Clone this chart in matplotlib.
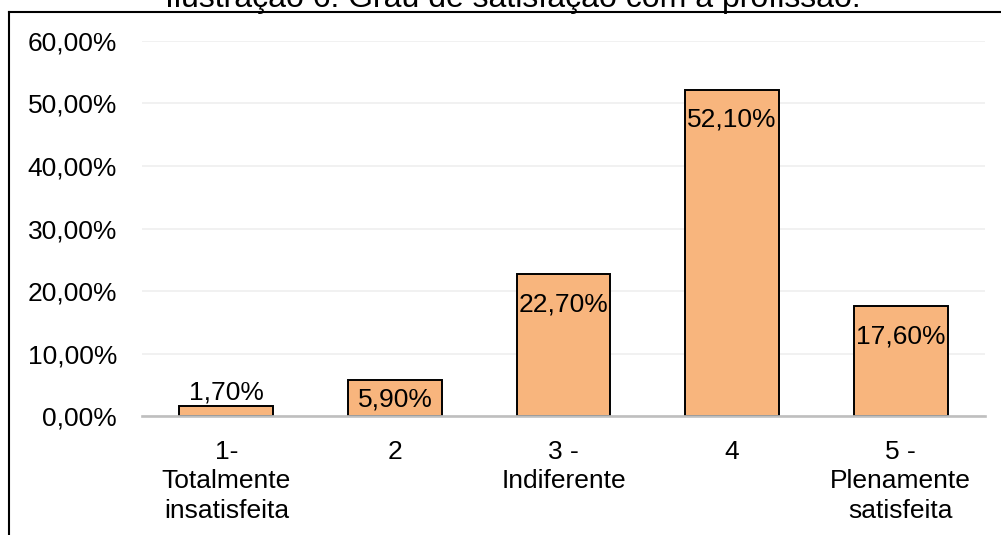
import matplotlib
matplotlib.use("Agg")
import matplotlib.pyplot as plt
from matplotlib.lines import Line2D
from matplotlib.ticker import FuncFormatter

# ── Data ─────────────────────────────────────────────
categories = [
    "1-\nTotalmente\ninsatisfeita",
    "2",
    "3 -\nIndiferente",
    "4",
    "5 -\nPlenamente\nsatisfeita",
]
values = [1.70, 5.90, 22.70, 52.10, 17.60]   # percent
yticks = [0, 10, 20, 30, 40, 50, 60]
title = "Ilustração 6: Grau de satisfação com a profissão."

BAR_COLOR = "#F8B57D"
FONT = ["Liberation Sans", "DejaVu Sans"]

plt.rcParams["font.family"] = FONT


def pct(v, _pos=None):
    return f"{v:.2f}%".replace(".", ",")


def main():
    fig = plt.figure(figsize=(10.01, 5.35), dpi=100)
    ax = fig.add_axes([0.1419, 0.2215, 0.8421, 0.7025])

    x = range(len(categories))
    ax.bar(x, values, width=0.556, color=BAR_COLOR, edgecolor="black",
           linewidth=1.4, zorder=3)

    # value labels: outside for tiny bars, inside-end otherwise
    for xi, v in zip(x, values):
        if v < 3:
            y = v + 2.2
        else:
            y = v - min(4.75, v / 2 + 0.3)
        ax.text(xi, y, pct(v), ha="center", va="center", fontsize=19,
                zorder=4)

    ax.set_xlim(-0.5, len(categories) - 0.5)
    ax.set_ylim(0, 60)
    ax.set_yticks(yticks)
    ax.yaxis.set_major_formatter(FuncFormatter(pct))
    ax.set_xticks(list(x))
    ax.set_xticklabels(categories, linespacing=1.28)

    ax.grid(axis="y", color="#EFEFEF", linewidth=1.2, zorder=0)
    ax.tick_params(axis="both", length=0, labelsize=19)
    ax.tick_params(axis="y", pad=18)
    ax.tick_params(axis="x", pad=17)

    for side in ["top", "right", "left"]:
        ax.spines[side].set_visible(False)
    ax.spines["bottom"].set_color("#BFBFBF")
    ax.spines["bottom"].set_linewidth(1.9)
    ax.spines["bottom"].set_zorder(5)

    # chart frame (only left and top edges are visible in the crop)
    W, H = 1001, 535
    fig.add_artist(Line2D([8.5 / W, 8.5 / W], [0, 1 - 12 / H],
                          color="black", linewidth=1.5))
    fig.add_artist(Line2D([8.5 / W, 1], [1 - 12 / H, 1 - 12 / H],
                          color="black", linewidth=1.5))

    fig.text(513 / W, 1 - 7.5 / H, title, ha="center", va="baseline",
             fontsize=23)

    fig.savefig("out.png", dpi=100)


if __name__ == "__main__":
    main()
